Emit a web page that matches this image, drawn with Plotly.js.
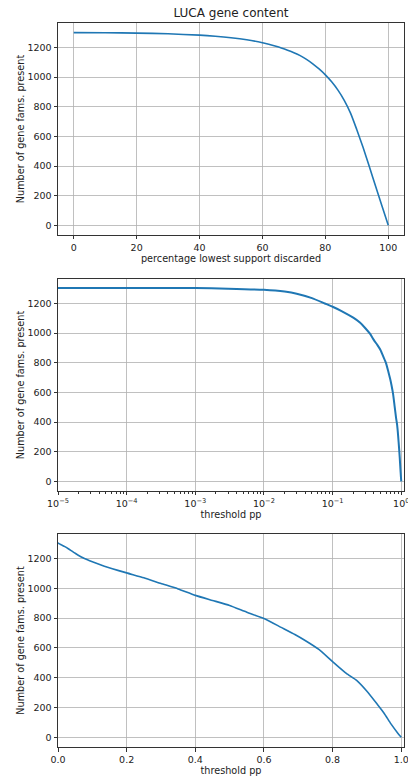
<!DOCTYPE html>
<html><head><meta charset="utf-8">
<script src="https://cdn.plot.ly/plotly-3.0.1.min.js"></script>
<style>html,body{margin:0;padding:0;background:#fff}#chart{width:408px;height:776px}</style>
</head><body><div id="chart"></div>
<script>
// Panel 1: percentage lowest support discarded
const pctDiscarded = [0, 10, 20, 30, 40, 45, 50, 55, 60, 62, 64, 66, 68, 70, 72, 74, 76, 78, 80, 82, 84, 86, 88, 90, 92, 94, 96, 98, 100];
const famsByPct    = [1300, 1299, 1297, 1292, 1283, 1276, 1266, 1252, 1232, 1222, 1210, 1197, 1182, 1165, 1145, 1120, 1090, 1055, 1015, 968, 912, 843, 757, 645, 525, 395, 262, 130, 0];

// Panels 2 and 3: threshold pp
const thresholdPP = [1e-5, 1e-4, 1e-3, 3e-3, 0.01, 0.02, 0.03, 0.05, 0.077, 0.1, 0.135, 0.2, 0.25, 0.3, 0.35, 0.4, 0.45, 0.5, 0.55, 0.6, 0.65, 0.69, 0.72, 0.76, 0.8, 0.84, 0.87, 0.9, 0.93, 0.95, 0.97, 0.99, 1.0];
const famsByThreshold = [1305, 1305, 1304, 1300, 1292, 1280, 1266, 1236, 1200, 1178, 1149, 1104, 1071, 1033, 996, 953, 919, 885, 840, 798, 738, 690, 650, 590, 508, 429, 382, 309, 222, 162, 90, 28, 0];

const logTickVals = [1e-5, 1e-4, 1e-3, 1e-2, 1e-1, 1];
const logTickText = ['10<sup>−5</sup>', '10<sup>−4</sup>', '10<sup>−3</sup>', '10<sup>−2</sup>', '10<sup>−1</sup>', '10<sup>0</sup>'];

const chartTitle = 'LUCA gene content';
const yTitle = 'Number of gene fams. present';
const xTitle1 = 'percentage lowest support discarded';
const xTitle2 = 'threshold pp';
const xTitle3 = 'threshold pp';

const FONT = 'DejaVu Sans, sans-serif';
const TXT = '#222';
const LINE = '#1f77b4';

const traces = [
  {x: pctDiscarded, y: famsByPct, type: 'scatter', mode: 'lines', line: {color: LINE, width: 1.6, shape: 'spline', smoothing: 0.6}, xaxis: 'x', yaxis: 'y', hoverinfo: 'skip'},
  {x: thresholdPP, y: famsByThreshold, type: 'scatter', mode: 'lines', line: {color: LINE, width: 2, shape: 'spline', smoothing: 0.5}, xaxis: 'x2', yaxis: 'y2', hoverinfo: 'skip'},
  {x: thresholdPP, y: famsByThreshold, type: 'scatter', mode: 'lines', line: {color: LINE, width: 1.6, shape: 'spline', smoothing: 0.5}, xaxis: 'x3', yaxis: 'y3', hoverinfo: 'skip'}
];

function baseAxis(extra) {
  return Object.assign({
    showline: true, mirror: true, linecolor: '#333', linewidth: 1,
    ticks: 'outside', ticklen: 3.5, tickwidth: 1, tickcolor: '#333',
    showgrid: true, gridcolor: '#b0b0b0', gridwidth: 0.8,
    zeroline: false,
    tickfont: {family: FONT, size: 9.5, color: TXT}
  }, extra);
}
function yAxis(domain, anchor) {
  return baseAxis({
    domain: domain, anchor: anchor, range: [-65, 1365], tickvals: [0, 200, 400, 600, 800, 1000, 1200],
    title: {text: yTitle, font: {family: FONT, size: 9.7, color: TXT}, standoff: 1}
  });
}

const layout = {
  width: 408, height: 776,
  margin: {l: 58, r: 4, t: 23, b: 29},
  paper_bgcolor: '#fff', plot_bgcolor: '#fff',
  showlegend: false,
  title: {text: chartTitle, font: {family: FONT, size: 12, color: TXT}, x: 0.5, xref: 'paper', xanchor: 'center', y: 1 - 13/776, yanchor: 'middle', yref: 'container'},
  xaxis: baseAxis({anchor: 'y', range: [-5, 105], tickvals: [0, 20, 40, 60, 80, 100],
    title: {text: xTitle1, font: {family: FONT, size: 9.7, color: TXT}, standoff: 2}}),
  yaxis: yAxis([0.7072, 1], 'x'),
  xaxis2: baseAxis({anchor: 'y2', type: 'log', range: [-5, 0.04], tickmode: 'array', tickvals: logTickVals, ticktext: logTickText,
    ticklabeloverflow: 'allow',
    minor: {ticks: 'outside', ticklen: 2, tickcolor: '#333', showgrid: false, dtick: 'D1'},
    title: {text: xTitle2, font: {family: FONT, size: 9.7, color: TXT}, standoff: 2}}),
  yaxis2: yAxis([0.3536, 0.6464], 'x2'),
  xaxis3: baseAxis({anchor: 'y3', range: [0, 1.008], tickvals: [0, 0.2, 0.4, 0.6, 0.8, 1.0], tickformat: '.1f',
    ticklabeloverflow: 'allow',
    title: {text: xTitle3, font: {family: FONT, size: 9.7, color: TXT}, standoff: 2}}),
  yaxis3: yAxis([0, 0.2942], 'x3')
};

Plotly.newPlot('chart', traces, layout, {staticPlot: true, displayModeBar: false});
</script>
</body></html>
